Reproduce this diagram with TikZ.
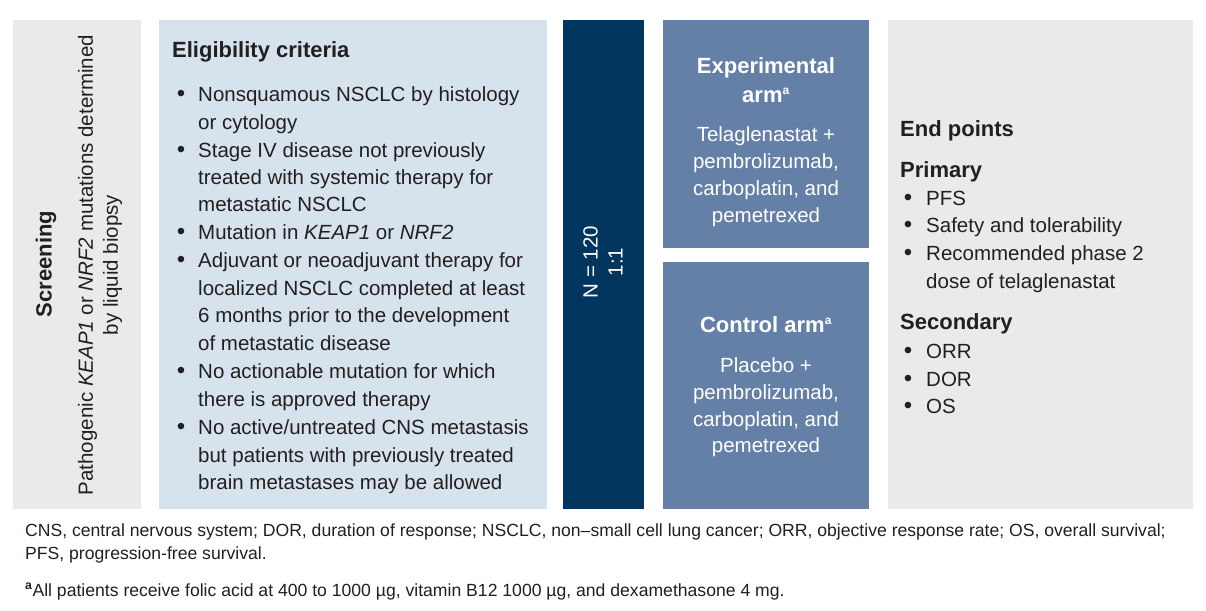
\documentclass[tikz,border=0pt]{standalone}
\usepackage{fontspec}
\setmainfont{Liberation Sans}
\usetikzlibrary{positioning}
\definecolor{colGray}{RGB}{233,234,236}
\definecolor{colLight}{RGB}{215,227,236}
\definecolor{colNavy}{RGB}{3,54,95}
\definecolor{colArm}{RGB}{100,128,167}
\definecolor{colText}{RGB}{35,31,32}
\newcommand{\supA}{\textsuperscript{\fontsize{12}{12}\selectfont a}}
\tikzstyle{txt}=[anchor=base west, inner sep=0pt, text=colText, font=\fontsize{20.5}{25}\selectfont]
\tikzstyle{head}=[txt, font=\fontsize{22}{27}\selectfont\bfseries]
\tikzstyle{bul}=[txt, anchor=base, font=\fontsize{24}{25}\selectfont]
\tikzstyle{armtxt}=[anchor=base, inner sep=0pt, text=white, font=\fontsize{20.5}{25}\selectfont]
\tikzstyle{armhead}=[armtxt, font=\fontsize{22}{27}\selectfont\bfseries]
\tikzstyle{rot}=[rotate=90, inner sep=0pt, align=center, font=\fontsize{20.5}{25}\selectfont]
\tikzstyle{note}=[txt, font=\fontsize{17.6}{23}\selectfont]

\begin{document}
\begin{tikzpicture}[x=1pt, y=-1pt]
			\useasboundingbox[fill=white] (0,0) rectangle (1206,610);

			%%% Panels
			\fill[colGray]  (13,20)  rectangle (141,509);
			\fill[colLight] (159,20) rectangle (547,509);
			\fill[colNavy]  (563,20) rectangle (644,509);
			\fill[colArm]   (663,20) rectangle (869,248);
			\fill[colArm]   (663,262) rectangle (869,509);
			\fill[colGray]  (888,20) rectangle (1193,509);

			%%% Screening
			\node[rot, text=colText, font=\fontsize{22}{27}\selectfont\bfseries] (scr) at (46,264) {Screening};
			\node[rot, text=colText] (scrtxt) at (100,265) {Pathogenic \textit{KEAP1} or \textit{NRF2} mutations determined\\by liquid biopsy};

			%%% Eligibility criteria
			\node[head] (elig) at (172,58) {Eligibility criteria};
			\foreach \y/\t [count=\i] in {
					101/Nonsquamous NSCLC by histology,
					129/or cytology,
					157/Stage IV disease not previously,
					184/treated with systemic therapy for,
					211/metastatic NSCLC,
					239/Mutation in \textit{KEAP1} or \textit{NRF2},
					267/Adjuvant or neoadjuvant therapy for,
					295/localized NSCLC completed at least,
					322/6 months prior to the development,
					350/of metastatic disease,
					378/No actionable mutation for which,
					406/there is approved therapy,
					434/{No active/untreated CNS metastasis},
					462/but patients with previously treated,
					489/brain metastases may be allowed}
				\node[txt] (el\i) at (198,\y) {\t};
			\foreach \y [count=\i] in {101,157,239,267,378,434}
				\node[bul] (eb\i) at (181,\y) {•};

			%%% Randomization
			\node[rot, text=white] (rand) at (603,262) {N = 120\\1:1};

			%%% Experimental arm
			\node[armhead] (exp1) at (766,74)  {Experimental};
			\node[armhead] (exp2) at (766,102) {arm\supA};
			\foreach \y/\t [count=\i] in {141/Telaglenastat +, 168/{pembrolizumab,}, 195/{carboplatin, and}, 222/pemetrexed}
				\node[armtxt] (ex\i) at (766,\y) {\t};

			%%% Control arm
			\node[armhead] (ctl) at (766,332) {Control arm\supA};
			\foreach \y/\t [count=\i] in {372/Placebo +, 399/{pembrolizumab,}, 426/{carboplatin, and}, 452/pemetrexed}
				\node[armtxt] (ct\i) at (766,\y) {\t};

			%%% End points
			\node[head] (endp) at (900,136) {End points};
			\node[head] (prim) at (900,177) {Primary};
			\foreach \y/\t [count=\i] in {205/PFS, 232/Safety and tolerability, 260/Recommended phase 2, 288/dose of telaglenastat}
				\node[txt] (pr\i) at (926,\y) {\t};
			\foreach \y [count=\i] in {205,232,260}
				\node[bul] (pb\i) at (908,\y) {•};
			\node[head] (sec) at (900,329) {Secondary};
			\foreach \y/\t [count=\i] in {358/ORR, 386/DOR, 413/OS}
				\node[txt] (se\i) at (926,\y) {\t};
			\foreach \y [count=\i] in {358,386,413}
				\node[bul] (sb\i) at (908,\y) {•};

			%%% Footnotes
			\node[note] (fn1) at (25,536) {CNS, central nervous system; DOR, duration of response; NSCLC, non–small cell lung cancer; ORR, objective response rate; OS, overall survival;};
			\node[note] (fn2) at (25,559) {PFS, progression-free survival.};
			\node[note] (fn3) at (25,596) {\textsuperscript{\bfseries a}All patients receive folic acid at 400 to 1000 µg, vitamin B12 1000 µg, and dexamethasone 4 mg.};
		\end{tikzpicture}
\end{document}
